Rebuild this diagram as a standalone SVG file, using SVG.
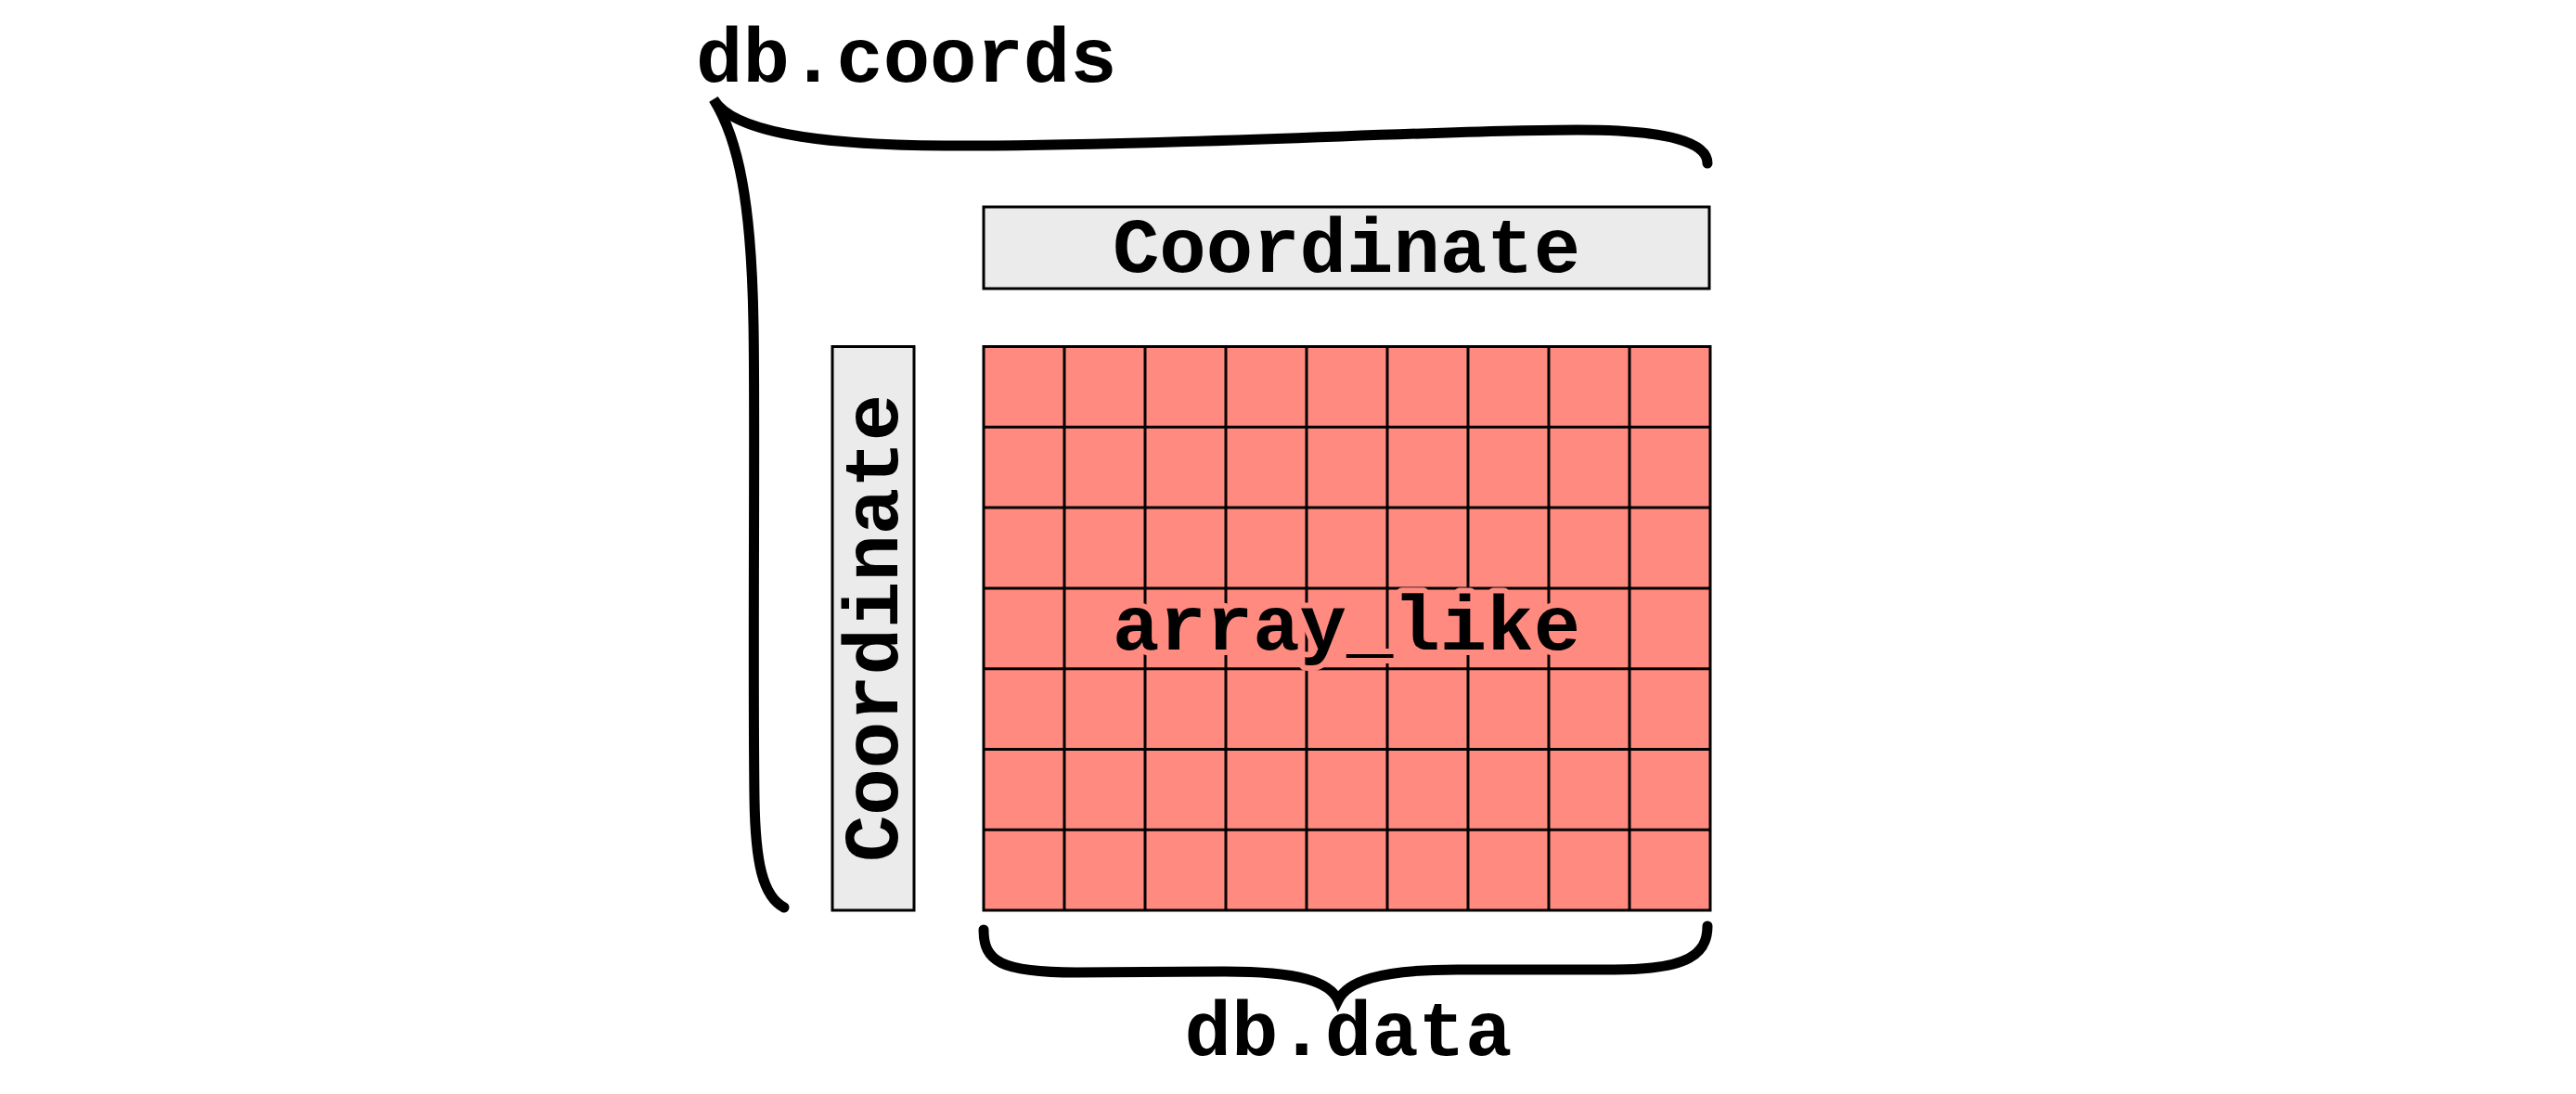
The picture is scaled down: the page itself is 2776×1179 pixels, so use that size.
<svg xmlns="http://www.w3.org/2000/svg" width="2776" height="1179" viewBox="0 0 2776 1179">
<style>
.lbl{font-family:"Liberation Mono","Courier New",monospace;font-weight:bold;font-size:84px;fill:#000}
.mid{text-anchor:middle}
.box{fill:#ebebeb;stroke:#000;stroke-width:3}
.cell{fill:#ff8a80}
.gl{stroke:#000;stroke-width:3;fill:none}
.brace{fill:none;stroke:#000;stroke-width:11;stroke-linecap:round;stroke-linejoin:miter;stroke-miterlimit:20}
.halo{stroke:#ff8a80;stroke-width:12;paint-order:stroke;stroke-linejoin:round}
</style>
<rect width="2776" height="1179" fill="#fff"/>
<g id="coords-label"><text class="lbl" x="750" y="88">db.coords</text></g>
<g id="coord-top">
<rect class="box" x="1060" y="223" width="782" height="88"/>
<text class="lbl mid" x="1451" y="293">Coordinate</text>
</g>
<g id="coord-left">
<rect class="box" x="897" y="373.5" width="88" height="607.5"/>
<text class="lbl mid" transform="translate(967,677) rotate(-90)" x="0" y="0">Coordinate</text>
</g>
<g id="array">
<rect class="cell" x="1060" y="373.5" width="783" height="607.5"/>
<path class="gl" d="M1147,373.5V981M1234,373.5V981M1321,373.5V981M1408,373.5V981M1495,373.5V981M1582,373.5V981M1669,373.5V981M1756,373.5V981M1060,460.3H1843M1060,547.1H1843M1060,633.9H1843M1060,720.7H1843M1060,807.5H1843M1060,894.3H1843"/>
<rect class="gl" x="1060" y="373.5" width="783" height="607.5"/>
<text class="lbl mid halo" x="1451" y="700">array_like</text>
</g>
<g id="connectors">
<path class="brace" d="M845,978 C822,966 814,930 813,860 C811,700 814,450 812,350 C810,220 796,150 769,107 C792,146 900,158 1050,157 C1300,156 1550,140 1700,140 C1800,140 1840,154 1840,176"/>
<path class="brace" d="M1060,1002 C1060,1036 1078,1048 1160,1048 L1320,1047 C1400,1047 1433,1058 1442,1078 C1452,1058 1485,1045 1570,1045 L1740,1045 C1820,1045 1840,1028 1840,998"/>
</g>
<g id="data-label"><text class="lbl mid" x="1453" y="1137">db.data</text></g>
</svg>
